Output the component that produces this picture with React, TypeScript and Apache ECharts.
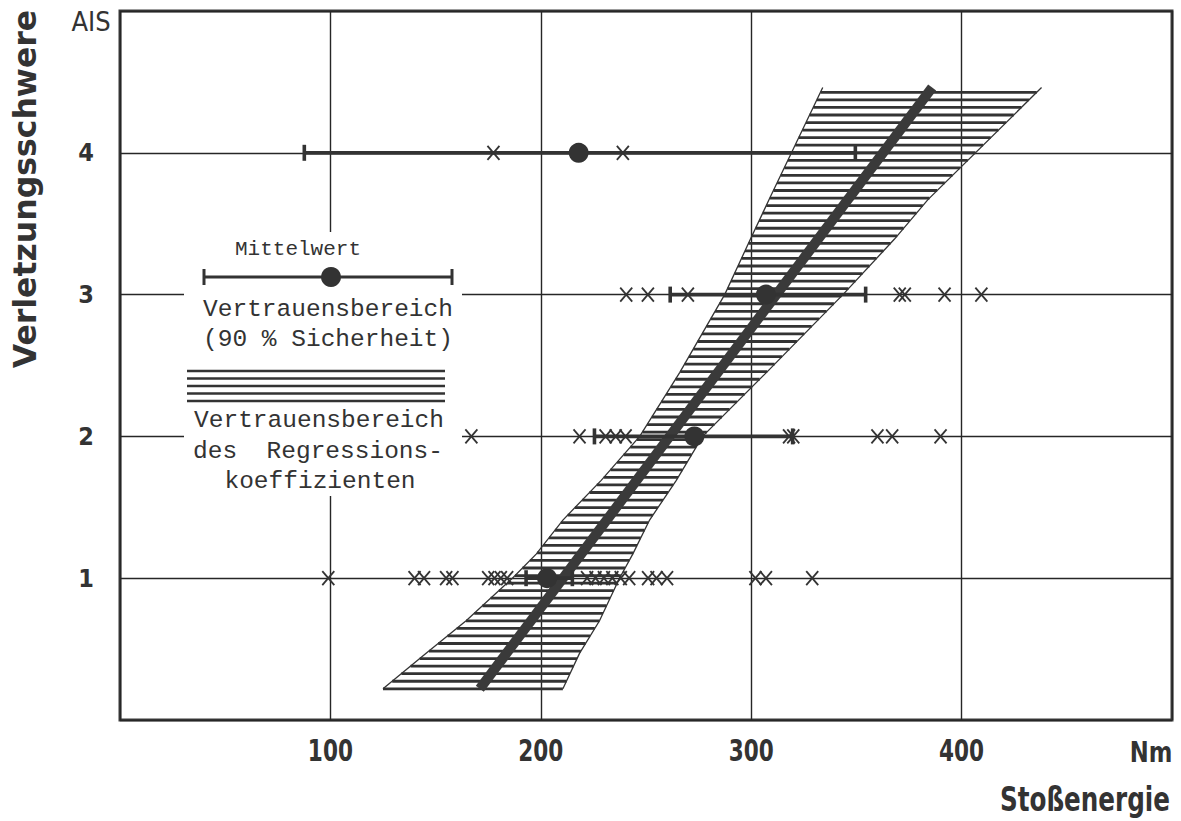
import React, { useEffect, useRef } from "react";
import * as echarts from "echarts";

// ---- axis ticks ----
const xTickLabels = [100, 200, 300, 400];
const yTickLabels = [1, 2, 3, 4];

// ---- regression line [Stoßenergie Nm, AIS] ----
const regressionEnergy = [171, 386];
const regressionAis = [0.22, 4.46];

// ---- confidence band of regression coefficient ----
const bandAis = [0.22, 0.47, 0.7, 1.0, 1.17, 1.41, 1.69, 2.0, 2.45, 3.0, 3.39, 3.67, 4.46];
const bandLeft = [125, 145.5, 164.5, 186.5, 197.8, 210.5, 228.7, 247, 266, 287.4, 299.6, 308.5, 334];
const bandRight = [210.5, 218.4, 227.9, 237.4, 243.7, 251.7, 264.4, 276.9, 307.2, 343.6, 368, 384, 438];

// ---- means and 90 % confidence intervals per AIS ----
const severity = [1, 2, 3, 4];
const meanEnergy = [203, 273, 307, 218];
const ciLow = [193, 225.5, 261.5, 87.6];
const ciHigh = [215, 319.7, 354.4, 349.5];

// ---- single observations (crosses) per AIS ----
const crossesAis1 = [99, 140, 144.5, 155, 158, 175, 178, 181, 184, 222, 226, 230, 234, 238, 242, 251, 255, 260, 302, 307, 329];
const crossesAis2 = [167, 218.4, 230.8, 235.6, 240.3, 318, 320, 360, 367, 390];
const crossesAis3 = [240.6, 250.9, 269.9, 370.6, 373, 391.9, 409.4];
const crossesAis4 = [177.5, 239];

const INK = "#333333";
const GRID_INK = "#262626";
const COND = "'DejaVu Sans Condensed', 'DejaVu Sans', sans-serif";
const SANS = "'DejaVu Sans', sans-serif";
const MONO = "'Liberation Mono', 'DejaVu Sans Mono', monospace";
const HATCH_STEP = 7.55;

function interpX(pts: number[][], y: number): number {
  for (let i = 0; i < pts.length - 1; i++) {
    const [x0, y0] = pts[i];
    const [x1, y1] = pts[i + 1];
    if (y <= y0 + 0.001 && y >= y1 - 0.001) {
      const t = y0 === y1 ? 0 : (y0 - y) / (y0 - y1);
      return x0 + (x1 - x0) * t;
    }
  }
  return pts[pts.length - 1][0];
}

export default function App() {
  const ref = useRef<HTMLDivElement>(null);

  useEffect(() => {
    if (!ref.current) return;
    const chart = echarts.init(ref.current, undefined, { renderer: "svg" });

    const crossData: number[][] = [];
    crossesAis1.forEach((x) => crossData.push([x, 1]));
    crossesAis2.forEach((x) => crossData.push([x, 2]));
    crossesAis3.forEach((x) => crossData.push([x, 3]));
    crossesAis4.forEach((x) => crossData.push([x, 4]));

    const option: any = {
      animation: false,
      backgroundColor: "#ffffff",
      grid: {
        left: 120,
        top: 11,
        width: 1052,
        height: 709,
        show: true,
        borderColor: "#3a3a3a",
        borderWidth: 3,
        backgroundColor: "transparent",
      },
      xAxis: {
        type: "value",
        min: 0,
        max: 500,
        interval: 100,
        axisLine: { show: false },
        axisTick: { show: false },
        splitLine: { show: true, lineStyle: { color: GRID_INK, width: 1.4 } },
        axisLabel: { show: false },
      },
      yAxis: {
        type: "value",
        min: 0,
        max: 5,
        interval: 1,
        axisLine: { show: false },
        axisTick: { show: false },
        splitLine: { show: true, lineStyle: { color: GRID_INK, width: 1.4 } },
        axisLabel: {
          margin: 26,
          color: INK,
          fontFamily: COND,
          fontWeight: "bold",
          fontSize: 25,
          formatter: (v: number) => (yTickLabels.indexOf(v) >= 0 ? String(v) : ""),
        },
      },
      series: [
        {
          type: "custom",
          name: "band",
          coordinateSystem: "cartesian2d",
          silent: true,
          z: 2,
          data: [[bandLeft[0], bandAis[0]]],
          renderItem: (params: any, api: any) => {
            const L = bandAis.map((a, i) => api.coord([bandLeft[i], a]));
            const R = bandAis.map((a, i) => api.coord([bandRight[i], a]));
            const children: any[] = [];
            const yBottom = L[0][1];
            const yTop = L[L.length - 1][1];
            for (let y = yBottom; y >= yTop - 0.5; y -= HATCH_STEP) {
              children.push({
                type: "line",
                shape: { x1: interpX(L, y), y1: y, x2: interpX(R, y), y2: y },
                style: { stroke: INK, lineWidth: 2.8 },
              });
            }
            children.push({
              type: "polyline",
              shape: { points: L },
              style: { stroke: INK, lineWidth: 1.3, fill: null },
            });
            children.push({
              type: "polyline",
              shape: { points: R },
              style: { stroke: INK, lineWidth: 1.3, fill: null },
            });
            return { type: "group", children };
          },
        },
        {
          type: "line",
          name: "regression",
          z: 3,
          silent: true,
          symbol: "none",
          data: regressionEnergy.map((x, i) => [x, regressionAis[i]]),
          lineStyle: { color: "#3a3a3a", width: 10, cap: "butt" },
        },
        {
          type: "custom",
          name: "ci",
          coordinateSystem: "cartesian2d",
          silent: true,
          z: 4,
          encode: { x: [0, 1], y: 2 },
          data: severity.map((s, i) => [ciLow[i], ciHigh[i], s]),
          renderItem: (params: any, api: any) => {
            const a = api.coord([api.value(0), api.value(2)]);
            const b = api.coord([api.value(1), api.value(2)]);
            const h = 8;
            return {
              type: "group",
              children: [
                { type: "line", shape: { x1: a[0], y1: a[1], x2: b[0], y2: b[1] }, style: { stroke: INK, lineWidth: 3.8 } },
                { type: "line", shape: { x1: a[0], y1: a[1] - h, x2: a[0], y2: a[1] + h }, style: { stroke: INK, lineWidth: 3.6 } },
                { type: "line", shape: { x1: b[0], y1: b[1] - h, x2: b[0], y2: b[1] + h }, style: { stroke: INK, lineWidth: 3.6 } },
              ],
            };
          },
        },
        {
          type: "custom",
          name: "crosses",
          coordinateSystem: "cartesian2d",
          silent: true,
          z: 5,
          data: crossData,
          renderItem: (params: any, api: any) => {
            const p = api.coord([api.value(0), api.value(1)]);
            const w = 6;
            const h = 7;
            return {
              type: "group",
              children: [
                { type: "line", shape: { x1: p[0] - w, y1: p[1] - h, x2: p[0] + w, y2: p[1] + h }, style: { stroke: INK, lineWidth: 1.8 } },
                { type: "line", shape: { x1: p[0] - w, y1: p[1] + h, x2: p[0] + w, y2: p[1] - h }, style: { stroke: INK, lineWidth: 1.8 } },
              ],
            };
          },
        },
        {
          type: "scatter",
          name: "mean",
          z: 6,
          silent: true,
          symbol: "circle",
          symbolSize: 20,
          itemStyle: { color: INK, opacity: 1 },
          data: severity.map((s, i) => [meanEnergy[i], s]),
        },
      ],
    };

    chart.setOption(option);

    // x tick labels placed through the axis scale (narrow DIN-like digits)
    const baseY = chart.convertToPixel({ yAxisIndex: 0 }, 0) as number;
    const xLabelGraphics = xTickLabels.map((v) => ({
      type: "text",
      z: 51,
      x: chart.convertToPixel({ xAxisIndex: 0 }, v) as number,
      y: baseY + 31,
      scaleX: 0.8,
      style: { text: String(v), font: `bold 30px ${COND}`, fill: INK, textAlign: "center", textVerticalAlign: "middle" },
    }));

    const legendText = (text: string, x: number, y: number, size: number) => ({
      type: "text",
      z: 51,
      x,
      y,
      style: { text, font: `${size}px ${MONO}`, fill: INK, textAlign: "center", textVerticalAlign: "middle" },
    });
    const hatch = (y: number) => ({
      type: "line",
      z: 51,
      shape: { x1: 187, y1: y, x2: 445, y2: y },
      style: { stroke: INK, lineWidth: 2.4 },
    });

    chart.setOption({
      graphic: [
        // legend background (interrupts grid lines)
        { type: "rect", z: 50, shape: { x: 184, y: 232, width: 278, height: 264 }, style: { fill: "#ffffff" } },
        legendText("Mittelwert", 298, 249, 21),
        { type: "line", z: 51, shape: { x1: 204, y1: 277, x2: 452, y2: 277 }, style: { stroke: INK, lineWidth: 3 } },
        { type: "line", z: 51, shape: { x1: 204, y1: 269, x2: 204, y2: 285 }, style: { stroke: INK, lineWidth: 3 } },
        { type: "line", z: 51, shape: { x1: 452, y1: 269, x2: 452, y2: 285 }, style: { stroke: INK, lineWidth: 3 } },
        { type: "circle", z: 51, shape: { cx: 331, cy: 277, r: 10 }, style: { fill: INK } },
        legendText("Vertrauensbereich", 328, 309, 24.5),
        legendText("(90 % Sicherheit)", 328, 339, 24.5),
        hatch(371),
        hatch(378.5),
        hatch(386),
        hatch(393.5),
        hatch(401),
        legendText("Vertrauensbereich", 319, 420, 24.5),
        legendText("des  Regressions-", 318, 451, 24.5),
        legendText("koeffizienten", 320, 481, 24.5),
        // axis titles and units
        { type: "text", z: 51, x: 91, y: 21, style: { text: "AIS", font: `27px ${COND}`, fill: INK, textAlign: "center", textVerticalAlign: "middle" } },
        { type: "text", z: 51, x: 25, y: 189, rotation: Math.PI / 2, style: { text: "Verletzungsschwere", font: `bold 31.5px ${SANS}`, fill: INK, textAlign: "center", textVerticalAlign: "middle" } },
        { type: "text", z: 51, x: 1151, y: 752, scaleX: 0.9, style: { text: "Nm", font: `bold 28px ${COND}`, fill: INK, textAlign: "center", textVerticalAlign: "middle" } },
        { type: "text", z: 51, x: 1170, y: 800, scaleX: 0.83, style: { text: "Stoßenergie", font: `bold 33px ${COND}`, fill: INK, textAlign: "right", textVerticalAlign: "middle" } },
        ...xLabelGraphics,
      ],
    });

    return () => chart.dispose();
  }, []);

  return (
    <div
      ref={ref}
      style={{ position: "fixed", left: 0, top: 0, width: 1181, height: 821, background: "#fff" }}
    />
  );
}
